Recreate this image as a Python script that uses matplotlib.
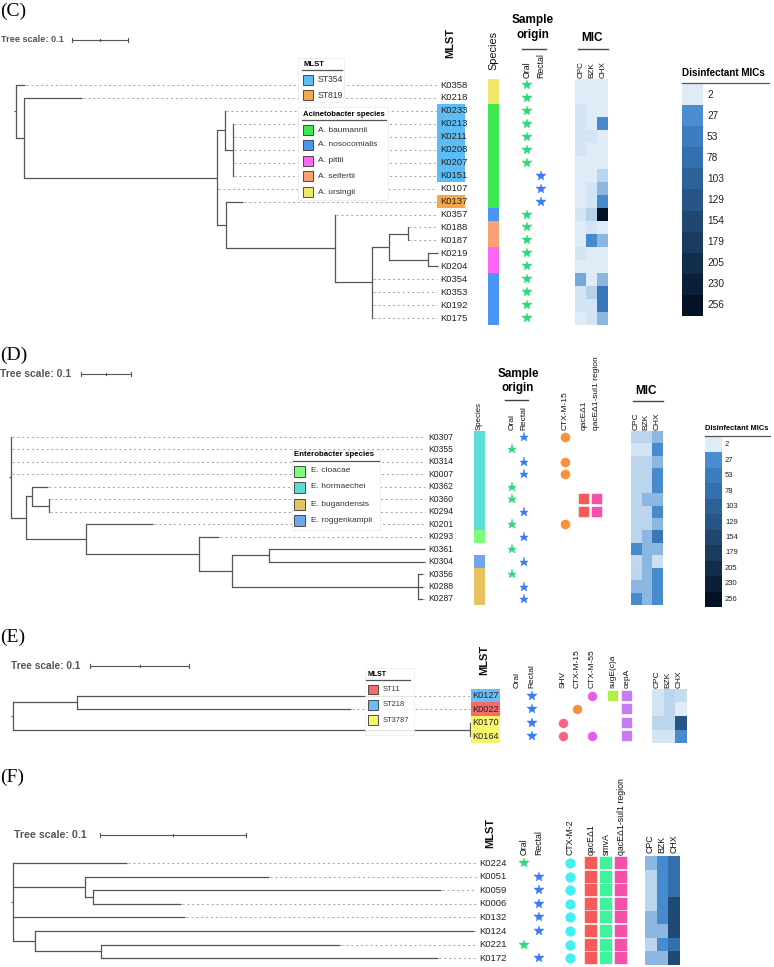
import numpy as np
import matplotlib
matplotlib.use("Agg")
import matplotlib.pyplot as plt
from matplotlib.colors import LinearSegmentedColormap, Normalize
from matplotlib.patches import Rectangle

plt.rcParams['font.family'] = ['Liberation Sans', 'DejaVu Sans']

# ---------------- data ----------------
# disinfectant MIC colour key (shared by all panels)
mic_levels = [2, 27, 53, 78, 103, 129, 154, 179, 205, 230, 256]
mic_level_colors = ['#dfebf7', '#4a8dd0', '#3c7dc0', '#3570ae', '#2d6299', '#275585',
                    '#1f4770', '#1a3a5e', '#122c4b', '#0c1f38', '#051225']
mic_cols = ['CPC', 'BZK', 'CHX']

# (C) Acinetobacter
c_tree = ("(K0358:0.016,(K0218:0.104,((K0233:0,(K0213:0,K0211:0,K0208:0,K0207:0,K0151:0):0.014):0.014,"
          "K0107:0,(K0137:0.030,(K0357:0,(((K0188:0,K0187:0):0.034,(K0219:0.018,K0204:0.018):0.070):0.030,"
          "K0354:0,K0353:0,K0192:0,K0175:0):0.066):0.195):0.016):0.345):0.014);")
c_mlst = ['', '', 'ST354', 'ST354', 'ST354', 'ST354', 'ST354', 'ST354', '', 'ST819',
          '', '', '', '', '', '', '', '', '']
c_species = ['A. ursingii', 'A. ursingii', 'A. baumannii', 'A. baumannii', 'A. baumannii',
             'A. baumannii', 'A. baumannii', 'A. baumannii', 'A. baumannii', 'A. baumannii',
             'A. nosocomialis', 'A. seifertii', 'A. seifertii', 'A. pittii', 'A. pittii',
             'A. nosocomialis', 'A. nosocomialis', 'A. nosocomialis', 'A. nosocomialis']
c_origin = ['O', 'O', 'O', 'O', 'O', 'O', 'O', 'R', 'R', 'R', 'O', 'O', 'O', 'O', 'O', 'O', 'O', 'O', 'O']
c_cpc = [2, 2, 4, 4, 4, 4, 2, 2, 2, 2, 4, 2, 2, 4, 2, 20, 4, 4, 2]
c_bzk = [2, 2, 2, 2, 4, 2, 2, 2, 4, 4, 9, 4, 32, 2, 2, 2, 9, 4, 4]
c_chx = [2, 2, 2, 32, 2, 2, 2, 8, 16, 32, 256, 2, 16, 2, 2, 16, 64, 64, 16]
c_st_names = ['ST354', 'ST819']
c_st_colors = ['#5dbcf6', '#f7a74a']
c_sp_names = ['A. baumannii', 'A. nosocomialis', 'A. pittii', 'A. seifertii', 'A. ursingii']
c_sp_colors = ['#3ee64f', '#4a96f6', '#ff66f1', '#f9a172', '#f0e86b']

# (D) Enterobacter
d_tree = ("(K0307:0,K0355:0,K0314:0,K0007:0,((K0362:0.032,(K0360:0,K0294:0):0.034):0.012,"
          "(K0201:0.134,(K0293:0.040,((K0361:0.312,K0304:0.312):0.074,"
          "(K0356:0.010,K0288:0.010,K0287:0.010):0.372):0.066):0.226):0.120):0.030);")
d_species = ['E. hormaechei'] * 8 + ['E. cloacae', '', 'E. roggenkampii',
                                    'E. bugandensis', 'E. bugandensis', 'E. bugandensis']
d_origin = ['R', 'O', 'R', 'R', 'O', 'O', 'R', 'O', 'R', 'O', 'R', 'O', 'R', 'R']
d_genes = ['CTX-M-15', 'qacEΔ1', 'qacEΔ1-sul1 region']
d_ctxm15 = [1, 0, 1, 1, 0, 0, 0, 1, 0, 0, 0, 0, 0, 0]
d_qace = [0, 0, 0, 0, 0, 1, 1, 0, 0, 0, 0, 0, 0, 0]
d_sul1 = [0, 0, 0, 0, 0, 1, 1, 0, 0, 0, 0, 0, 0, 0]
d_cpc = [8, 4, 8, 8, 8, 8, 8, 8, 8, 32, 7, 8, 16, 32]
d_bzk = [8, 4, 8, 8, 8, 16, 8, 8, 16, 16, 16, 16, 16, 16]
d_chx = [16, 32, 16, 32, 32, 16, 32, 16, 64, 16, 5, 32, 32, 32]
d_sp_names = ['E. cloacae', 'E. hormaechei', 'E. bugandensis', 'E. roggenkampii']
d_sp_colors = ['#80fc7c', '#5cded8', '#e8c25e', '#6fa5ef']

# (E) Klebsiella
e_tree = "((K0127:0.339,K0022:0.276):0.065,(K0170:0,K0164:0):0.462);"
e_mlst = ['ST218', 'ST11', 'ST3787', 'ST3787']
e_origin = ['R', 'R', 'R', 'R']
e_genes = ['SHV', 'CTX-M-15', 'CTX-M-55', 'sugE(c)a', 'cepA']
e_shv = [0, 0, 1, 1]
e_ctxm15 = [0, 1, 0, 0]
e_ctxm55 = [1, 0, 0, 1]
e_suge = [1, 0, 0, 0]
e_cepa = [1, 1, 1, 1]
e_cpc = [4, 4, 8, 4]
e_bzk = [8, 8, 8, 4]
e_chx = [6, 2, 128, 32]
e_st_names = ['ST11', 'ST218', 'ST3787']
e_st_colors = ['#f76b6b', '#6bbdf7', '#f7f76b']

# (F)
f_tree = ("(K0224:0.078,(K0051:0.126,(K0059:0.238,K0006:0.060):0.006):0.049,K0132:0.118,"
          "(K0124:0.301,(K0221:0.164,K0172:0.231):0.045):0.015);")
f_origin = ['O', 'R', 'R', 'R', 'R', 'R', 'O', 'R']
f_genes = ['CTX-M-2', 'qacEΔ1', 'smvA', 'qacEΔ1-sul1 region']
f_ctxm2 = [1, 1, 1, 1, 1, 1, 1, 1]
f_qace = [1, 1, 1, 1, 1, 1, 1, 1]
f_smva = [1, 1, 1, 1, 1, 1, 1, 1]
f_sul1 = [1, 1, 1, 1, 1, 1, 1, 1]
f_cpc = [16, 8, 8, 8, 16, 16, 8, 16]
f_bzk = [32, 32, 32, 32, 32, 16, 32, 16]
f_chx = [80, 80, 80, 150, 150, 150, 80, 150]

# ---------------- helpers ----------------
TREE = '#555555'
ORAL = '#2fd87c'
RECTAL = '#3b7cf5'

mic_cmap = LinearSegmentedColormap.from_list(
    'mic', [((v - 2) / 254, c) for v, c in zip(mic_levels, mic_level_colors)])
mic_norm = Normalize(2, 256)


def parse_newick(s):
    s = s.strip().rstrip(';')
    pos = 0

    def node():
        nonlocal pos
        kids = []
        if s[pos] == '(':
            pos += 1
            while True:
                kids.append(node())
                if s[pos] == ',':
                    pos += 1
                else:
                    break
            pos += 1
        start = pos
        while pos < len(s) and s[pos] not in ',():':
            pos += 1
        name = s[start:pos]
        length = 0.0
        if pos < len(s) and s[pos] == ':':
            pos += 1
            start = pos
            while pos < len(s) and s[pos] not in ',)':
                pos += 1
            length = float(s[start:pos])
        return {'name': name, 'len': length, 'kids': kids}
    return node()


def layout(tree, x0, scale, y0, dy):
    leaves = []

    def walk(n, px):
        n['x'] = px + n['len'] * scale
        if n['kids']:
            for k in n['kids']:
                walk(k, n['x'])
            n['y'] = (n['kids'][0]['y'] + n['kids'][-1]['y']) / 2
        else:
            n['y'] = y0 + len(leaves) * dy
            leaves.append(n)
    walk(tree, x0)
    return leaves


def draw_tree(ax, tree, label_x):
    def walk(n, px):
        ax.plot([px, n['x']], [n['y'], n['y']], color=TREE, lw=0.9, solid_capstyle='butt', zorder=2)
        if n['kids']:
            ax.plot([n['x'], n['x']], [n['kids'][0]['y'], n['kids'][-1]['y']], color=TREE, lw=0.9,
                    solid_capstyle='projecting', zorder=2)
            for k in n['kids']:
                walk(k, n['x'])
        elif n['x'] < label_x - 1.5:
            ax.plot([n['x'] + 1, label_x], [n['y'], n['y']], color='#a8a8a8', lw=0.7,
                    ls=(0, (2.2, 2.8)), zorder=1)
    walk(tree, tree['x'] - 2)


def tree_scale(ax, tx, y, x0, x1, fs):
    ax.text(tx, y, 'Tree scale: 0.1', fontsize=fs, fontweight='bold', color='#555555', va='center')
    ax.plot([x0, x1], [y, y], color='#555555', lw=0.8)
    for xx, h in [(x0, 2.2), ((x0 + x1) / 2, 1.2), (x1, 2.2)]:
        ax.plot([xx, xx], [y - h, y + h], color='#555555', lw=0.8)


def col_label(ax, x, ybot, text, fs, bold=False):
    ax.text(x, ybot, text, rotation=90, ha='center', va='bottom', fontsize=fs,
            fontweight='bold' if bold else 'normal', color='#111111')


def marks(ax, x, ys, flags, marker, color, ms):
    sel = [y for y, f in zip(ys, flags) if f]
    ax.plot([x] * len(sel), sel, ls='none', marker=marker, ms=ms, color=color, mec=color, mew=0.3)


def origin_marks(ax, xo, xr, ys, origin, ms):
    marks(ax, xo, ys, [o == 'O' for o in origin], '*', ORAL, ms)
    marks(ax, xr, ys, [o == 'R' for o in origin], '*', RECTAL, ms)


def heat(ax, x0, x1, ys, dy, cols):
    xe = np.linspace(x0, x1, len(cols) + 1)
    ye = ys[0] - dy / 2 + dy * np.arange(len(ys) + 1)
    ax.pcolormesh(xe, ye, np.array(cols).T, cmap=mic_cmap, norm=mic_norm, zorder=2)


def mic_key(ax, x, y_title, x_end, y0, y1, w, fs_t, fs_l, gap):
    ax.text(x, y_title, 'Disinfectant MICs', fontsize=fs_t, fontweight='bold', va='center')
    ax.plot([x, x_end], [y0 - 1.2, y0 - 1.2], color='#555555', lw=0.9)
    h = (y1 - y0) / len(mic_levels)
    for i, v in enumerate(mic_levels):
        ax.add_patch(Rectangle((x, y0 + i * h), w, h, fc=mic_cmap(mic_norm(v)), ec='none'))
        ax.text(x + w + gap, y0 + (i + 0.5) * h, str(v), fontsize=fs_l, va='center', color='#222222')


def strip(ax, x0, x1, ys, dy, names, lookup):
    for y, n in zip(ys, names):
        if n:
            ax.add_patch(Rectangle((x0, y - dy / 2), x1 - x0, dy, fc=lookup[n], ec='none', zorder=2))


def leaf_labels(ax, x, leaves, fs, hl=None, hl_x=None, dy=None):
    for i, lf in enumerate(leaves):
        if hl is not None and hl[i]:
            ax.add_patch(Rectangle((hl_x[0], lf['y'] - dy / 2), hl_x[1] - hl_x[0], dy,
                                   fc=hl[i], ec='none', zorder=2))
        ax.text(x, lf['y'], lf['name'], fontsize=fs, va='center', ha='left', color='#222222', zorder=3)


def legend_box(ax, box, title, y_title, line_x, names, colors, ys, sw_x, sw, txt_x, fs_t, fs, alpha=1.0):
    ax.add_patch(Rectangle((box[0], box[1]), box[2] - box[0], box[3] - box[1], fc='white',
                           ec='#e8e8e8', lw=0.5, alpha=alpha, zorder=4))
    ax.text(line_x[0] + 1, y_title, title, fontsize=fs_t, fontweight='bold', va='center', zorder=5)
    ax.plot(line_x, [y_title + 6, y_title + 6], color='#555555', lw=0.9, zorder=5)
    for n, c, y in zip(names, colors, ys):
        ax.add_patch(Rectangle((sw_x, y - sw / 2), sw, sw, fc=c, ec='#333333', lw=0.6, zorder=5))
        ax.text(txt_x, y, n, fontsize=fs, va='center', color='#333333', zorder=5)


def panel_tag(ax, x, y, t):
    ax.text(x, y, t, fontsize=14, family='Liberation Serif', va='center', ha='left')


# ---------------- figure ----------------
fig = plt.figure(figsize=(7.74, 9.67), dpi=100)
ax = fig.add_axes([0, 0, 1, 1])
ax.set_xlim(0, 774)
ax.set_ylim(967, 0)
ax.set_axis_off()

# ===== (C) =====
panel_tag(ax, 0, 11, '(C)')
tree_scale(ax, 1, 40, 72, 128, 6.6)
tc = parse_newick(c_tree)
dyc = 12.95
lc = layout(tc, 16, 560, 85, dyc)
ysc = [l['y'] for l in lc]
draw_tree(ax, tc, 437)
st_c = dict(zip(c_st_names, c_st_colors))
leaf_labels(ax, 440, lc, 6.8, [st_c.get(m) for m in c_mlst], (437, 465), dyc)
legend_box(ax, (298, 58, 344, 102), 'MLST', 64, (302, 342), c_st_names, c_st_colors,
           [80, 95], 303, 10, 318, 5.6, 6.2)
legend_box(ax, (298, 107, 388, 200), 'Acinetobacter species', 114, (302, 386), c_sp_names, c_sp_colors,
           [130, 145, 161, 176, 192], 303, 10, 318, 5.6, 6.0)
col_label(ax, 450, 58, 'MLST', 8, bold=True)
strip(ax, 488, 499, ysc, dyc, c_species, dict(zip(c_sp_names, c_sp_colors)))
col_label(ax, 493, 70, 'Species', 7.8)
ax.text(533, 20, 'Sample', fontsize=8.5, fontweight='bold', ha='center', va='center')
ax.text(533, 35, 'origin', fontsize=8.5, fontweight='bold', ha='center', va='center')
ax.plot([522, 546], [49, 49], color='#444444', lw=1)
col_label(ax, 527, 78, 'Oral', 6.3)
col_label(ax, 541, 78, 'Rectal', 6.3)
origin_marks(ax, 527, 541, ysc, c_origin, 7)
ax.text(592, 38, 'MIC', fontsize=8.5, fontweight='bold', ha='center', va='center')
ax.plot([578, 608], [49, 49], color='#444444', lw=1)
for x, t in zip([581, 592, 603], mic_cols):
    col_label(ax, x, 78, t, 5.9)
heat(ax, 575, 608, ysc, dyc, [c_cpc, c_bzk, c_chx])
mic_key(ax, 682, 73, 769, 84, 316, 21, 7.1, 7.3, 4)

# ===== (D) =====
panel_tag(ax, 0, 355, '(D)')
tree_scale(ax, 0, 374, 81, 131, 7.5)
td = parse_newick(d_tree)
dyd = 12.46
ld = layout(td, 11, 500, 437, dyd)
ysd = [l['y'] for l in ld]
draw_tree(ax, td, 425)
leaf_labels(ax, 428, ld, 6.2)
legend_box(ax, (292, 450, 380, 530), 'Enterobacter species', 455, (293, 379), d_sp_names, d_sp_colors,
           [471, 487, 504, 520], 294, 11, 311, 5.7, 6.0)
strip(ax, 474, 485, ysd, dyd, d_species, dict(zip(d_sp_names, d_sp_colors)))
col_label(ax, 479, 430, 'Species', 5.7)
ax.text(518, 374, 'Sample', fontsize=8.4, fontweight='bold', ha='center', va='center')
ax.text(518, 388, 'origin', fontsize=8.4, fontweight='bold', ha='center', va='center')
ax.plot([505, 528], [400, 400], color='#444444', lw=1)
col_label(ax, 512, 430, 'Oral', 6)
col_label(ax, 524, 430, 'Rectal', 6)
origin_marks(ax, 512, 524, ysd, d_origin, 6.8)
for x, t in zip([565, 584, 597], d_genes):
    col_label(ax, x, 430, t, 6)
marks(ax, 565, ysd, d_ctxm15, 'o', '#f7923a', 6.6)
marks(ax, 584, ysd, d_qace, 's', '#f55b5b', 6.6)
marks(ax, 597, ysd, d_sul1, 's', '#f550aa', 6.6)
ax.text(646, 391, 'MIC', fontsize=8.5, fontweight='bold', ha='center', va='center')
ax.plot([633, 663], [401, 401], color='#444444', lw=1)
for x, t in zip([636, 646, 657], mic_cols):
    col_label(ax, x, 430, t, 6)
heat(ax, 631, 663, ysd, dyd, [d_cpc, d_bzk, d_chx])
mic_key(ax, 705, 429, 770, 437, 607, 17, 5.4, 5.5, 3)

# ===== (E) =====
panel_tag(ax, 0, 637, '(E)')
tree_scale(ax, 11, 666, 90, 189, 7.3)
te = parse_newick(e_tree)
dye = 13.6
le = layout(te, 13, 990, 695.5, dye)
yse = [l['y'] for l in le]
draw_tree(ax, te, 470)
st_e = dict(zip(e_st_names, e_st_colors))
leaf_labels(ax, 472, le, 6.6, [st_e[m] for m in e_mlst], (471, 500), dye)
legend_box(ax, (365, 668, 414, 735), 'MLST', 674, (366, 410), e_st_names, e_st_colors,
           [689.5, 705, 720], 368, 9.5, 383, 5.0, 5.4, alpha=0.85)
col_label(ax, 484, 675, 'MLST', 8, bold=True)
col_label(ax, 517, 688, 'Oral', 6)
col_label(ax, 532, 688, 'Rectal', 6)
origin_marks(ax, 517, 532, yse, e_origin, 7)
for x, t in zip([563, 577, 592, 613, 627], e_genes):
    col_label(ax, x, 688, t, 6)
marks(ax, 563, yse, e_shv, 'o', '#f26585', 6.5)
marks(ax, 577, yse, e_ctxm15, 'o', '#f7923a', 6.5)
marks(ax, 592, yse, e_ctxm55, 'o', '#e35ee8', 6.5)
marks(ax, 613, yse, e_suge, 's', '#b0f040', 7.3)
marks(ax, 627, yse, e_cepa, 's', '#c77cf2', 7.3)
for x, t in zip([657, 668, 679], mic_cols):
    col_label(ax, x, 688, t, 6)
heat(ax, 652, 687, yse, dye, [e_cpc, e_bzk, e_chx])

# ===== (F) =====
panel_tag(ax, 0, 777, '(F)')
tree_scale(ax, 14, 835, 100, 246, 7.7)
tf = parse_newick(f_tree)
dyf = 13.6
lf_ = layout(tf, 13, 1460, 863, dyf)
ysf = [l['y'] for l in lf_]
draw_tree(ax, tf, 476)
leaf_labels(ax, 479, lf_, 6.8)
col_label(ax, 490, 848, 'MLST', 8, bold=True)
col_label(ax, 524, 855, 'Oral', 6.3)
col_label(ax, 539, 855, 'Rectal', 6.3)
origin_marks(ax, 524, 539, ysf, f_origin, 7)
for x, t in zip([570, 591, 606, 621], f_genes):
    col_label(ax, x, 855, t, 6.3)
marks(ax, 570, ysf, f_ctxm2, 'o', '#40f0f2', 7)
marks(ax, 591, ysf, f_qace, 's', '#f55b5b', 8)
marks(ax, 606, ysf, f_smva, 's', '#40f29e', 8)
marks(ax, 621, ysf, f_sul1, 's', '#f550aa', 8)
for x, t in zip([650, 662, 674], mic_cols):
    col_label(ax, x, 853, t, 6.3)
heat(ax, 645, 680, ysf, dyf, [f_cpc, f_bzk, f_chx])

fig.savefig('out.png', dpi=100)
